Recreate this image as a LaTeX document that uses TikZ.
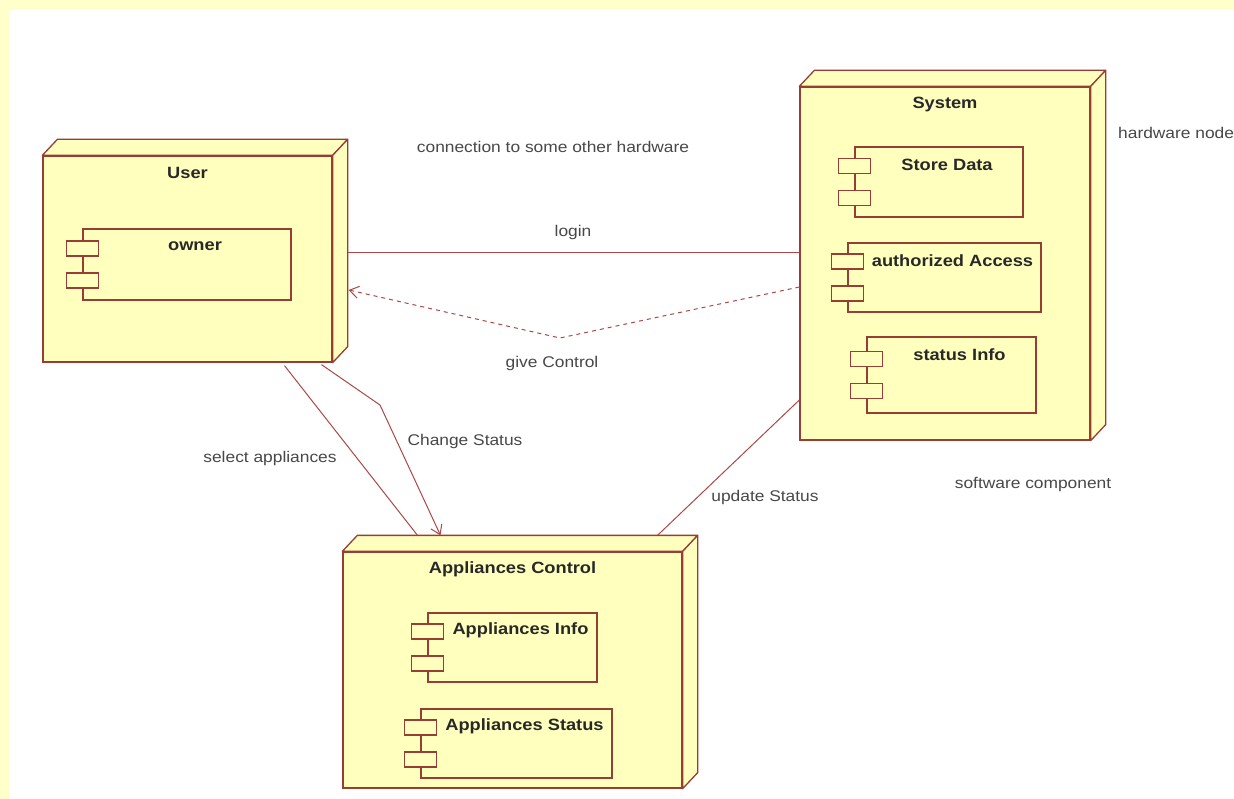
\documentclass[tikz,border=0pt]{standalone}
\usepackage{fontspec}
\setmainfont{Liberation Sans}[FakeStretch=1.12]
\usetikzlibrary{calc,arrows.meta}
\definecolor{bgyellow}{RGB}{255,255,204}
\definecolor{nodefill}{RGB}{255,255,190}
\definecolor{edgecol}{RGB}{150,62,52}
\definecolor{wirecol}{RGB}{172,72,72}
\definecolor{txtcol}{RGB}{40,40,40}
\newcommand\hwbox[6]{%
  \node[front,minimum width=#4pt,minimum height=#5pt] (#1) at (#2,#3) {};
  \draw[face] (#1.north west) -- ++(15,-16) -- ($(#1.north east)+(15,-16)$) -- (#1.north east) -- cycle;
  \draw[face] (#1.north east) -- ++(15,-16) -- ($(#1.south east)+(15,-16)$) -- (#1.south east) -- cycle;
  \node[title] (#1t) at ($(#1.north)+(0,18)$) {#6};
}
\newcommand\compbox[6]{%
  \node[comp,minimum width=#4pt,minimum height=#5pt] (#1) at (#2,#3) {};
  \node[port] (#1pa) at ($(#1.west)+(0,-16)$) {};
  \node[port] (#1pb) at ($(#1.west)+(0,16)$) {};
  \node[title] (#1t) at ($(#1.north)+(8,18)$) {#6};
}
\begin{document}
\begin{tikzpicture}[x=1pt,y=-1pt,
  front/.style={draw=edgecol,fill=nodefill,line width=1.3pt,rectangle,inner sep=0pt},
  face/.style={draw=edgecol,fill=nodefill,line width=1.3pt,line join=round},
  comp/.style={draw=edgecol,fill=nodefill,line width=1.2pt,rectangle,inner sep=0pt},
  port/.style={draw=edgecol,fill=nodefill,line width=1.2pt,rectangle,inner sep=0pt,minimum width=32pt,minimum height=15pt},
  title/.style={font=\bfseries\fontsize{16.3}{18}\selectfont,text=txtcol,inner sep=0pt},
  lbl/.style={font=\fontsize{15.5}{17}\selectfont,text=txtcol!85,inner sep=0pt},
  wireline/.style={draw=wirecol,line width=1pt},
  depline/.style={wireline,dash pattern=on 4pt off 4pt},
  barb/.style={-{Straight Barb[length=9pt,width=12pt]}},
]
\useasboundingbox (0,0) rectangle (1234,799);
\fill[bgyellow] (0,0) rectangle (1234,799);
\fill[white] (9,10) rectangle (1234,799);

\hwbox{user}{187.5}{259}{289}{206}{User}
\compbox{owner}{187}{264.5}{208}{71}{owner}

\hwbox{sys}{945}{263.5}{290}{353}{System}
\compbox{store}{939}{182}{168}{70}{Store Data}
\compbox{auth}{944.5}{277.5}{193}{69}{authorized Access}
\compbox{stat}{951.5}{375}{169}{76}{status Info}

\hwbox{ac}{512.5}{670}{339}{236}{Appliances Control}
\compbox{ainfo}{512.5}{647.5}{169}{69}{Appliances Info}
\compbox{astat}{516.5}{743.5}{191}{69}{Appliances Status}

\node[lbl] (conn) at (553,147) {connection to some other hardware};
\node[lbl,anchor=west] (hwn) at (1118,133) {hardware node};
\node[lbl] (swc) at (1033,484) {software component};

\coordinate (gcbend) at (560,338);
\coordinate (csbend) at (380,405);

\draw[wireline] ($(user.east)+(15,-6)$) -- ($(sys.west)+(0,-10.5)$);
\node[lbl] (loginl) at (573,232) {login};

\draw[depline,barb] ($(sys.west)+(0,23.5)$) -- (gcbend) -- ($(user.east)+(16,31)$);
\node[lbl] (givel) at (552,363) {give Control};

\draw[wireline] ($(user.south)+(97,3)$) -- ($(ac.north)+(-95,-16)$);
\node[lbl] (sell) at (270,458) {select appliances};

\draw[wireline,barb] ($(user.south)+(134,2)$) -- (csbend) -- ($(ac.north)+(-72,-16)$);
\node[lbl] (chgl) at (465,441) {Change Status};

\draw[wireline] ($(sys.west)+(0,136.5)$) -- ($(ac.north)+(145,-16)$);
\node[lbl] (updl) at (765,497) {update Status};
\end{tikzpicture}
\end{document}
